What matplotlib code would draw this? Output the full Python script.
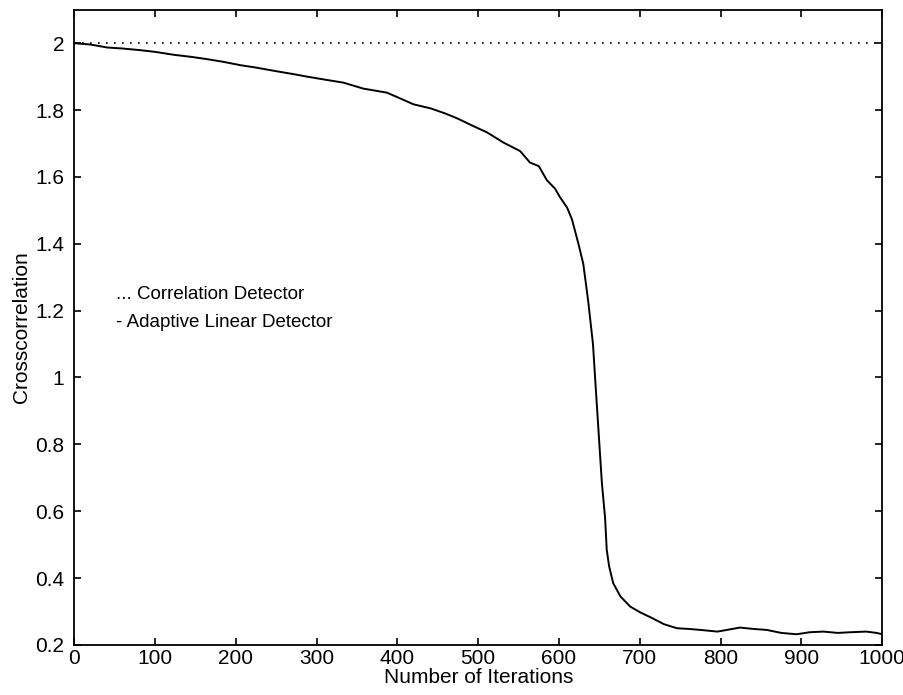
import matplotlib
matplotlib.use("Agg")
import matplotlib.pyplot as plt

plt.rcParams['font.family'] = ['Liberation Sans', 'DejaVu Sans']

# adaptive linear detector curve
iterations = [0, 20, 41, 60, 82, 100, 124, 145, 165, 185, 206, 225, 248, 270,
              288, 310, 333, 358, 387, 405, 420, 441, 460, 474, 494, 511, 531,
              552, 564, 575, 585, 595, 601, 610, 616, 624, 630, 636, 642, 645,
              649, 653, 657, 659, 662, 667, 676, 688, 700, 713, 730, 746, 760,
              775, 796, 810, 824, 840, 857, 875, 894, 910, 927, 945, 960, 980,
              993, 1000]
adaptive = [2.000, 1.996, 1.987, 1.984, 1.979, 1.974, 1.965, 1.959, 1.952,
            1.944, 1.934, 1.927, 1.917, 1.908, 1.900, 1.891, 1.882, 1.864,
            1.852, 1.833, 1.817, 1.805, 1.789, 1.775, 1.752, 1.733, 1.703,
            1.677, 1.643, 1.632, 1.590, 1.565, 1.540, 1.508, 1.473, 1.400,
            1.340, 1.230, 1.100, 0.985, 0.835, 0.685, 0.580, 0.485, 0.435,
            0.385, 0.345, 0.315, 0.298, 0.283, 0.262, 0.250, 0.248, 0.245,
            0.240, 0.246, 0.252, 0.248, 0.245, 0.236, 0.232, 0.238, 0.240,
            0.236, 0.238, 0.240, 0.236, 0.232]

# correlation detector stays flat
corr_x = [0, 1000]
corr_y = [2.0, 2.0]

xticks = list(range(0, 1001, 100))
yticks = [0.2, 0.4, 0.6, 0.8, 1.0, 1.2, 1.4, 1.6, 1.8, 2.0]
yticklabels = ['0.2', '0.4', '0.6', '0.8', '1', '1.2', '1.4', '1.6', '1.8', '2']

fig = plt.figure(figsize=(9.04, 6.95), dpi=100)
ax = fig.add_axes([0.082, 0.072, 0.894, 0.914])

ax.plot(iterations, adaptive, color='black', lw=1.4)
ax.plot(corr_x, corr_y, color='black', lw=1.2, linestyle=(0, (1, 3.8)))

ax.set_xlim(0, 1000)
ax.set_ylim(0.2, 2.1)
ax.set_xticks(xticks)
ax.set_yticks(yticks)
ax.set_yticklabels(yticklabels)
ax.tick_params(direction='in', length=5, width=1.2, top=True, right=True,
               labelsize=15)
ax.tick_params(axis='x', pad=3)
ax.tick_params(axis='y', pad=7)
for s in ax.spines.values():
    s.set_linewidth(1.3)

ax.set_xlabel('Number of Iterations', fontsize=15, labelpad=0)
ax.set_ylabel('Crosscorrelation', fontsize=15, labelpad=3)

ax.text(52, 1.247, '... Correlation Detector', fontsize=13.5, va='center')
ax.text(52, 1.164, '- Adaptive Linear Detector', fontsize=13.5, va='center')

fig.savefig('out.png', dpi=100)
